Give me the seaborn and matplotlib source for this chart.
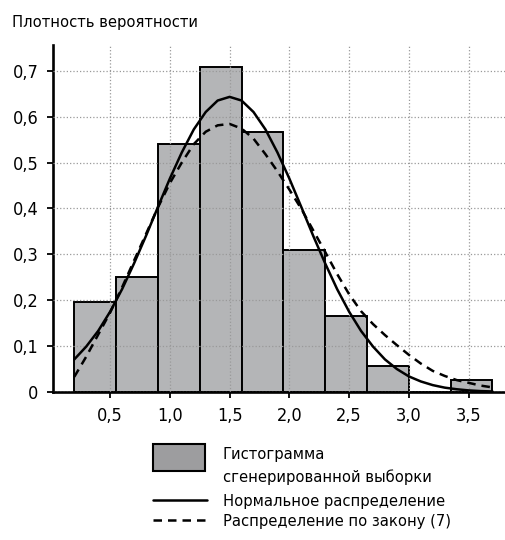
import numpy as np
import matplotlib
matplotlib.use("Agg")
import matplotlib.pyplot as plt
from matplotlib.patches import Rectangle
from matplotlib.lines import Line2D
import seaborn as sns


# ////////////////// DATA

bin_edges = [0.2, 0.55, 0.9, 1.25, 1.6, 1.95, 2.3, 2.65, 3.0, 3.35, 3.7]
bar_heights = [0.197, 0.251, 0.540, 0.709, 0.567, 0.309, 0.166, 0.057, 0.0, 0.026]

curve_x = [0.2, 0.3, 0.4, 0.5, 0.6, 0.7, 0.8, 0.9, 1.0, 1.1, 1.2, 1.3,
           1.4, 1.5, 1.6, 1.7, 1.8, 1.9, 2.0, 2.1, 2.2, 2.3, 2.4, 2.5,
           2.6, 2.7, 2.8, 2.9, 3.0, 3.1, 3.2, 3.3, 3.4, 3.5, 3.6, 3.7]
normal_y = [0.071, 0.099, 0.133, 0.175, 0.224, 0.280, 0.340, 0.403, 0.465, 0.522, 0.572, 0.610,
            0.635, 0.643, 0.635, 0.610, 0.572, 0.522, 0.465, 0.403, 0.340, 0.280, 0.224, 0.175,
            0.133, 0.099, 0.071, 0.050, 0.034, 0.023, 0.015, 0.0095, 0.006, 0.0035, 0.002, 0.0012]
law7_y = [0.033, 0.077, 0.125, 0.173, 0.228, 0.286, 0.344, 0.402, 0.455, 0.500, 0.540, 0.567,
          0.581, 0.584, 0.574, 0.552, 0.518, 0.481, 0.441, 0.399, 0.352, 0.305, 0.257, 0.213,
          0.176, 0.148, 0.124, 0.102, 0.081, 0.062, 0.046, 0.035, 0.026, 0.020, 0.014, 0.010]

x_ticks = [0.5, 1.0, 1.5, 2.0, 2.5, 3.0, 3.5]
x_ticklabels = ["0,5", "1,0", "1,5", "2,0", "2,5", "3,0", "3,5"]
y_ticks = [0, 0.1, 0.2, 0.3, 0.4, 0.5, 0.6, 0.7]
y_ticklabels = ["0", "0,1", "0,2", "0,3", "0,4", "0,5", "0,6", "0,7"]

y_title = "Плотность вероятности"
legend_labels = ["Гистограмма", "сгенерированной выборки",
                 "Нормальное распределение", "Распределение по закону (7)"]

bin_centers = [(a + b) / 2 for a, b in zip(bin_edges[:-1], bin_edges[1:])]


# ////////////////// STYLE

sns.set_style("white")
plt.rcParams["font.family"] = ["DejaVu Sans"]
plt.rcParams["font.stretch"] = "condensed"
plt.rcParams["text.color"] = "black"
plt.rcParams["xtick.color"] = "black"
plt.rcParams["ytick.color"] = "black"

W, H = 506, 540
fig = plt.figure(figsize=(W / 100, H / 100), dpi=100)
ax = fig.add_axes([53 / W, 1 - 392 / H, (W - 53) / W, (392 - 45) / H])


# ////////////////// HISTOGRAM + CURVES

sns.histplot(x=bin_centers, weights=bar_heights, bins=bin_edges, stat="count",
             color="#b4b5b7", edgecolor="black", linewidth=1.4, alpha=1,
             ax=ax, zorder=1)

sns.lineplot(x=curve_x, y=normal_y, color="black", linewidth=1.8, ax=ax, zorder=4)
sns.lineplot(x=curve_x, y=law7_y, color="black", linewidth=1.8,
             linestyle=(0, (3.4, 2.4)), ax=ax, zorder=4)

ax.set_xlim(0.022, 3.813)
ax.set_ylim(0, 0.756)
ax.set_xticks(x_ticks)
ax.set_xticklabels(x_ticklabels)
ax.set_yticks(y_ticks)
ax.set_yticklabels(y_ticklabels)
ax.set_xlabel("")
ax.set_ylabel("")

ax.set_axisbelow(False)
ax.grid(True, linestyle=":", color="#999999", linewidth=0.9)

sns.despine(ax=ax)
for s in ["left", "bottom"]:
    ax.spines[s].set_linewidth(1.9)
    ax.spines[s].set_color("black")

ax.tick_params(axis="both", direction="out", length=4.5, width=1.3,
               color="black", labelsize=13, pad=6, bottom=True, left=True)

fig.text(12 / W, 1 - 27 / H, y_title, fontsize=11.8, ha="left", va="baseline")


# ////////////////// LEGEND (hand placed under the axes)

fig.add_artist(Rectangle((153 / W, 1 - 471 / H), 52 / W, 27 / H,
                         transform=fig.transFigure, facecolor="#9d9d9f",
                         edgecolor="black", linewidth=1.5))
fig.add_artist(Line2D([153 / W, 207 / W], [1 - 500 / H, 1 - 500 / H],
                      transform=fig.transFigure, color="black", linewidth=1.8))
fig.add_artist(Line2D([153 / W, 207 / W], [1 - 520 / H, 1 - 520 / H],
                      transform=fig.transFigure, color="black", linewidth=1.8,
                      linestyle=(0, (3.4, 2.4))))

for label, base in zip(legend_labels, [459, 482, 506, 526]):
    fig.text(223 / W, 1 - base / H, label, fontsize=11.8, ha="left", va="baseline")

fig.savefig("out.png", dpi=100)
